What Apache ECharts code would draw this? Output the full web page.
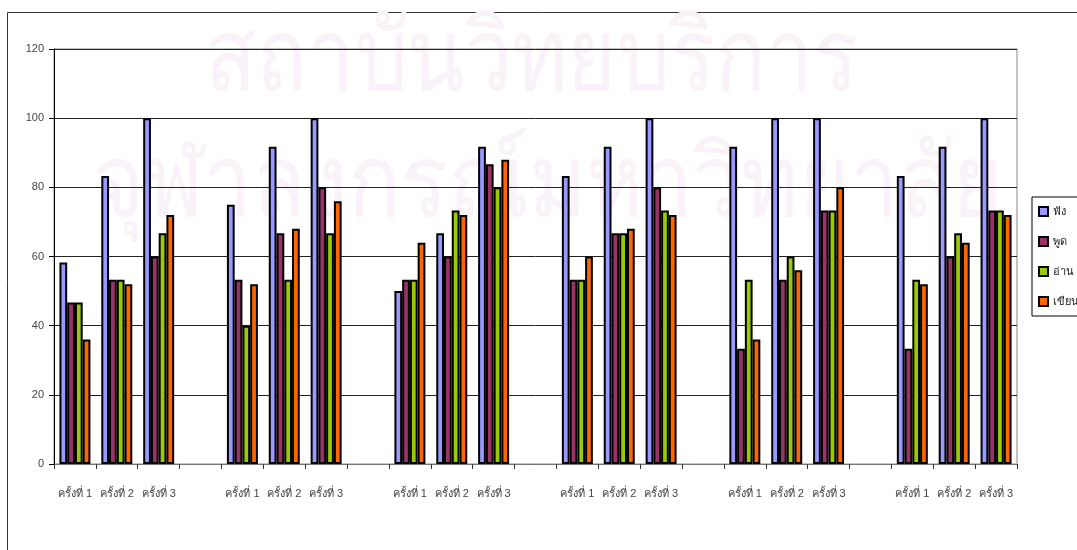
<!DOCTYPE html>
<html>
<head>
<meta charset="utf-8">
<script src="https://cdn.jsdelivr.net/npm/echarts@6/dist/echarts.min.js"></script>
<style>
html,body{margin:0;padding:0;background:#fff;}
#c{width:1077px;height:550px;}
</style>
</head>
<body>
<div id="c"></div>
<script>
// ---- data ----
var sessions = ['ครั้งที่ 1', 'ครั้งที่ 2', 'ครั้งที่ 3'];
var groupCount = 6;
var seriesNames = ['ฟัง', 'พูด', 'อ่าน', 'เขียน'];
var listen = [58.3, 83.3, 100, 75, 91.7, 100, 50, 66.7, 91.7, 83.3, 91.7, 100, 91.7, 100, 100, 83.3, 91.7, 100];
var speak  = [46.7, 53.3, 60, 53.3, 66.7, 80, 53.3, 60, 86.7, 53.3, 66.7, 80, 33.3, 53.3, 73.3, 33.3, 60, 73.3];
var read   = [46.7, 53.3, 66.7, 40, 53.3, 66.7, 53.3, 73.3, 80, 53.3, 66.7, 73.3, 53.3, 60, 73.3, 53.3, 66.7, 73.3];
var write  = [36, 52, 72, 52, 68, 76, 64, 72, 88, 60, 68, 72, 36, 56, 80, 52, 64, 72];
var yTicks = [0, 20, 40, 60, 80, 100, 120];
var colors = ['#9999FF', '#993366', '#99CC00', '#FF6600'];
var watermark1 = 'สถาบันวิทยบริการ';
var watermark2 = 'จุฬาลงกรณ์มหาวิทยาลัย';

// build categories with an empty slot between groups
var categories = [];
for (var g = 0; g < groupCount; g++) {
  for (var s = 0; s < sessions.length; s++) categories.push(sessions[s]);
  if (g < groupCount - 1) categories.push('');
}
function withGaps(arr) {
  var out = [], k = 0;
  for (var g = 0; g < groupCount; g++) {
    for (var s = 0; s < sessions.length; s++) out.push(arr[k++]);
    if (g < groupCount - 1) out.push('-');
  }
  return out;
}
var allValues = [listen, speak, read, write];

var chart = echarts.init(document.getElementById('c'), null, {renderer: 'canvas'});
var series = seriesNames.map(function (n, i) {
  return {
    name: n,
    type: 'bar',
    data: withGaps(allValues[i]),
    barGap: '0%',
    barCategoryGap: '26%',
    itemStyle: {color: colors[i], borderColor: '#000', borderWidth: 2},
    emphasis: {disabled: true},
    animation: false
  };
});

chart.setOption({
  animation: false,
  backgroundColor: '#fff',
  textStyle: {fontFamily: 'Liberation Sans, Arial, sans-serif'},
  graphic: {
    elements: [
      {type: 'rect', z: -20, shape: {x: 7.5, y: 12.5, width: 1200, height: 700},
        style: {fill: 'none', stroke: '#333', lineWidth: 1}},
      {type: 'text', z: -10, x: 205, y: 12, scaleX: 0.84,
        style: {text: watermark1, x: 0, y: 0, verticalAlign: 'top', font: '100px "Noto Sans", "DejaVu Sans", sans-serif', fill: '#F9F2F9'}},
      {type: 'text', z: -10, x: 93, y: 138, scaleX: 0.87,
        style: {text: watermark2, x: 0, y: 0, verticalAlign: 'top', font: '100px "Noto Sans", "DejaVu Sans", sans-serif', fill: '#F9F2F9'}}
    ]
  },
  grid: {left: 54, top: 49, right: 60, bottom: 86, show: true, borderColor: '#888', borderWidth: 1, backgroundColor: 'transparent'},
  legend: {
    orient: 'vertical',
    left: 1032, top: 197,
    padding: [9, 40, 9, 6],
    itemWidth: 9, itemHeight: 9, itemGap: 19,
    icon: 'rect',
    borderColor: '#000', borderWidth: 1,
    textStyle: {fontSize: 11, color: '#222'},
    data: seriesNames
  },
  xAxis: {
    type: 'category',
    data: categories,
    axisLine: {lineStyle: {color: '#777', width: 1}},
    axisTick: {show: true, interval: 0, length: 5, lineStyle: {color: '#333'}},
    axisLabel: {interval: 0, color: '#444', fontSize: 11, margin: 24},
    splitLine: {show: false}
  },
  yAxis: {
    type: 'value',
    min: 0, max: 120, interval: 20,
    axisLine: {show: true, lineStyle: {color: '#000', width: 1}},
    axisTick: {show: true, length: 5, lineStyle: {color: '#000'}},
    axisLabel: {color: '#444', fontSize: 11, margin: 10,
      formatter: function (v) { return yTicks.indexOf(v) >= 0 ? String(v) : ''; }},
    splitLine: {show: true, lineStyle: {color: '#222', width: 1}}
  },
  series: series
});
</script>
</body>
</html>
